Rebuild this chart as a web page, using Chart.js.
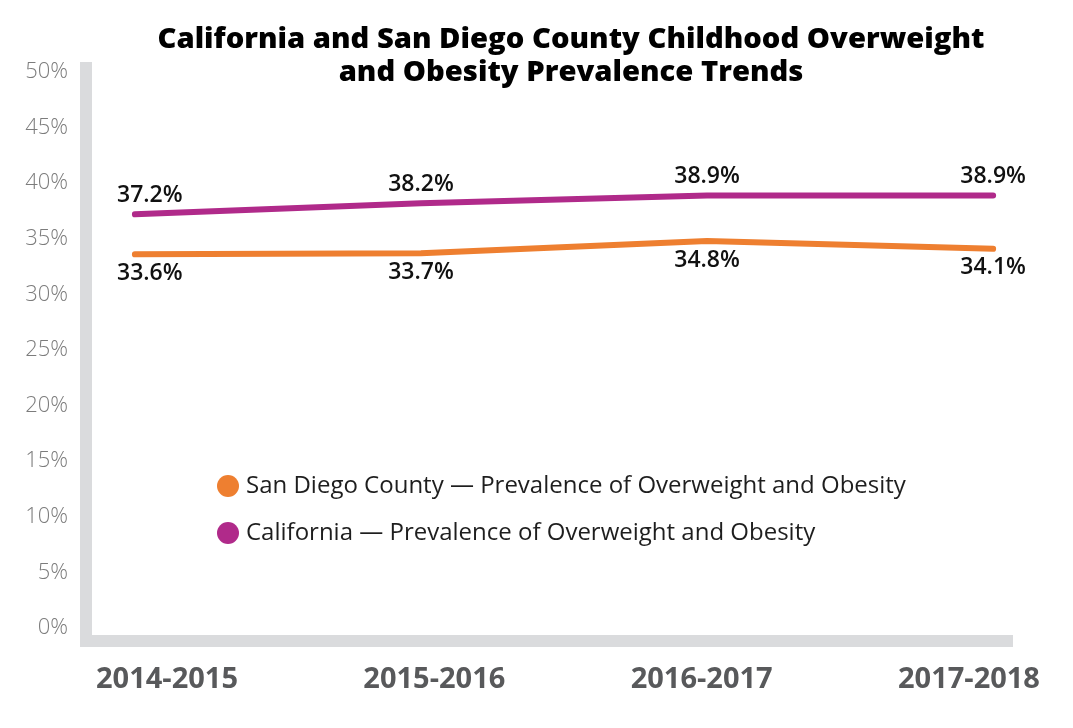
<!DOCTYPE html>
<html>
<head>
<meta charset="utf-8">
<title>Childhood Overweight and Obesity Prevalence Trends</title>
<script src="https://cdn.jsdelivr.net/npm/chart.js"></script>
<style>
  html, body { margin: 0; padding: 0; background: #ffffff; }
  #wrap { width: 1073px; height: 728px; }
</style>
</head>
<body>
<div id="wrap"><canvas id="trends" width="1073" height="728"></canvas></div>
<script>
var years = ["2014-2015", "2015-2016", "2016-2017", "2017-2018"];
var sanDiego = [33.6, 33.7, 34.8, 34.1];
var california = [37.2, 38.2, 38.9, 38.9];
var yTicks = [0, 5, 10, 15, 20, 25, 30, 35, 40, 45, 50];
var titleLines = ["California and San Diego County Childhood Overweight", "and Obesity Prevalence Trends"];
var seriesNames = ["San Diego County \u2014 Prevalence of Overweight and Obesity", "California \u2014 Prevalence of Overweight and Obesity"];

var orange = "#ee7f30";
var purple = "#b02a8a";
var axisGray = "#dadbdd";

function toPoints(values){
  return values.map(function(v, i){ return {x: i, y: v}; });
}

// title drawn by hand because it sits over the top of the y axis
var titlePlugin = {
  id: "titleText",
  afterDraw: function(chart){
    var ctx = chart.ctx;
    ctx.save();
    ctx.fillStyle = "#000000";
    ctx.textAlign = "center";
    ctx.textBaseline = "middle";
    ctx.font = "800 28px 'Open Sans'";
    var sx = 827 / ctx.measureText(titleLines[0]).width;
    var ys = [40, 73];
    titleLines.forEach(function(line, i){
      ctx.save();
      ctx.translate(571, ys[i]);
      ctx.scale(sx, 1);
      ctx.fillText(line, 0, 0);
      ctx.restore();
    });
    ctx.restore();
  }
};

// value labels above / below each point
var valueLabels = {
  id: "valueLabels",
  afterDatasetsDraw: function(chart){
    var ctx = chart.ctx;
    var left = chart.chartArea.left;
    ctx.save();
    ctx.font = "600 23px 'Open Sans'";
    ctx.fillStyle = "#111111";
    ctx.textAlign = "center";
    ctx.textBaseline = "middle";
    chart.data.datasets.forEach(function(ds, i){
      var meta = chart.getDatasetMeta(i);
      meta.data.forEach(function(pt, j){
        var txt = ds.data[j].y.toFixed(1) + "%";
        var half = ctx.measureText(txt).width / 2;
        var x = Math.max(pt.x, left + 31 + half);
        ctx.fillText(txt, x, pt.y + ds.labelSide * 19);
      });
    });
    ctx.restore();
  }
};

// legend inside the plot area
var innerLegend = {
  id: "innerLegend",
  afterDraw: function(chart){
    var ctx = chart.ctx;
    ctx.save();
    ctx.font = "400 24px 'Open Sans'";
    ctx.textAlign = "left";
    ctx.textBaseline = "middle";
    chart.data.datasets.forEach(function(ds, i){
      var y = 486 + i * 47;
      ctx.fillStyle = ds.borderColor;
      ctx.beginPath();
      ctx.arc(228, y, 11, 0, Math.PI * 2);
      ctx.fill();
      ctx.fillStyle = "#1e1e1e";
      ctx.fillText(ds.label, 246, y);
    });
    ctx.restore();
  }
};

function createChart(){
  new Chart("trends", {
    type: "line",
    data: {
      datasets: [{
        label: seriesNames[0],
        data: toPoints(sanDiego),
        borderColor: orange,
        backgroundColor: orange,
        borderWidth: 6,
        borderCapStyle: "round",
        borderJoinStyle: "round",
        pointRadius: 0,
        tension: 0,
        labelSide: 1
      }, {
        label: seriesNames[1],
        data: toPoints(california),
        borderColor: purple,
        backgroundColor: purple,
        borderWidth: 6,
        borderCapStyle: "round",
        borderJoinStyle: "round",
        pointRadius: 0,
        tension: 0,
        labelSide: -1
      }]
    },
    options: {
      responsive: false,
      animation: false,
      devicePixelRatio: 1,
      layout: { padding: { top: 68, right: 61, bottom: 0, left: 0 } },
      plugins: {
        legend: { display: false },
        title: { display: false },
        tooltip: { enabled: false }
      },
      scales: {
        // data axis: carries the thick bottom rule, no labels
        x: {
          type: "linear",
          min: -0.171,
          max: 3.066,
          grid: { display: false, drawTicks: false },
          border: { display: true, color: axisGray, width: 12 },
          ticks: { display: false },
          afterFit: function(axis){
            axis.height = 0;
            axis.paddingLeft = 0;
            axis.paddingRight = 0;
          }
        },
        // label axis for the year ranges
        x2: {
          type: "linear",
          position: "bottom",
          min: -0.303,
          max: 3.161,
          grid: { display: false, drawTicks: false },
          border: { display: false },
          afterBuildTicks: function(axis){
            axis.ticks = years.map(function(y, i){ return {value: i}; });
          },
          afterFit: function(axis){
            axis.height = 87;
            axis.paddingLeft = 0;
            axis.paddingRight = 0;
          },
          ticks: {
            padding: 21,
            maxRotation: 0,
            autoSkip: false,
            color: "#58595b",
            font: { family: "'Open Sans'", size: 29, weight: "bold" },
            callback: function(v){ return years[v]; }
          }
        },
        y: {
          min: -1.169,
          max: 50.36,
          grid: { display: false, drawTicks: false },
          border: { display: true, color: axisGray, width: 12 },
          afterBuildTicks: function(axis){
            axis.ticks = yTicks.map(function(v){ return {value: v}; });
          },
          afterFit: function(axis){
            axis.width = 86;
            axis.paddingTop = 0;
            axis.paddingBottom = 0;
          },
          ticks: {
            padding: 18,
            color: "#7c7c7c",
            font: { family: "'Open Sans'", size: 22, weight: 300 },
            callback: function(v){ return v + "%"; }
          }
        }
      }
    },
    plugins: [titlePlugin, valueLabels, innerLegend]
  });
}

Promise.all([
  document.fonts.load("800 28px 'Open Sans'"),
  document.fonts.load("600 23px 'Open Sans'"),
  document.fonts.load("300 22px 'Open Sans'"),
  document.fonts.load("700 29px 'Open Sans'"),
  document.fonts.load("400 24px 'Open Sans'")
]).then(createChart, createChart);
</script>
</body>
</html>
